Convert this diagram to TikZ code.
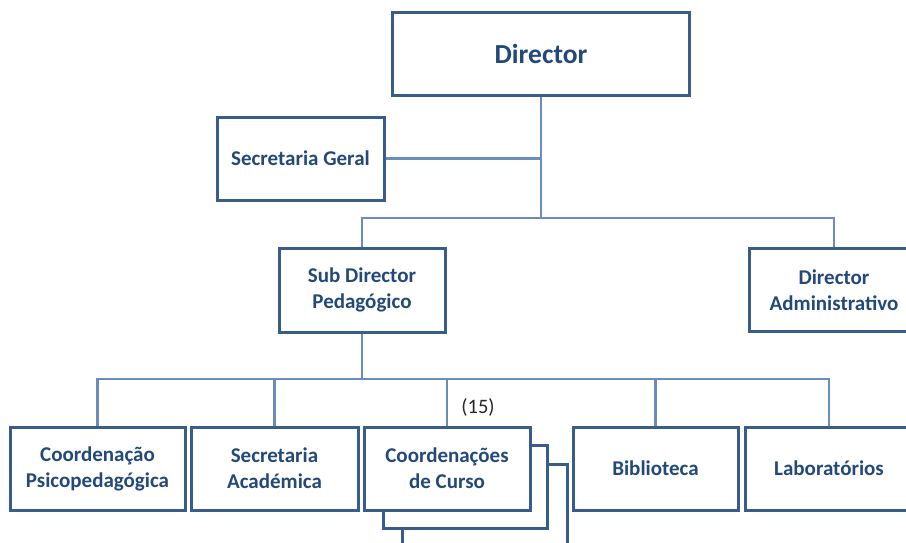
\documentclass[tikz,border=0pt]{standalone}
\usepackage{fontspec}
\setmainfont{Carlito}
\definecolor{boxline}{HTML}{385D8A}
\definecolor{conn}{HTML}{6A8DBE}
\definecolor{txt}{HTML}{23497A}
\begin{document}
\begin{tikzpicture}[x=1pt,y=-1pt,
  orgbox/.style={draw=boxline, line width=3pt, fill=white, inner sep=0pt,
    minimum height=83pt, align=center, text=txt,
    font=\fontsize{21}{26}\selectfont\bfseries},
  link/.style={draw=conn, line width=2.4pt}]
\useasboundingbox (0,0) rectangle (906,542);
\clip (0,0) rectangle (906,542);
% nodes
\node[orgbox, minimum width=297pt, font=\fontsize{27.5}{32}\selectfont\bfseries] (dir) at (541,53.5) {Director};
\node[orgbox, minimum width=167pt] (sg) at (300.5,158.5) {Secretaria Geral};
\node[orgbox, minimum width=166pt, minimum height=84pt] (sub) at (362,290) {Sub Director\\Pedagógico};
\node[orgbox, minimum width=170pt] (adm) at (834,290) {Director\\Administrativo};
\node[orgbox, minimum width=175pt] (psi) at (97.5,468.5) {Coordenação\\Psicopedagógica};
\node[orgbox, minimum width=167pt] (sac) at (274.5,468.5) {Secretaria\\Académica};
\node[orgbox, minimum width=165pt] (cc3) at (484.5,505.5) {};
\node[orgbox, minimum width=164pt] (cc2) at (465,486.5) {};
\node[orgbox, minimum width=166pt] (cc) at (447,468.5) {Coordenações\\de Curso};
\node[orgbox, minimum width=165pt] (bib) at (655.5,468.5) {Biblioteca};
\node[orgbox, minimum width=168pt] (lab) at (829,468.5) {Laboratórios};
\node[text=black!85, font=\fontsize{20.5}{24}\selectfont] (num) at (478,407) {(15)};
% junctions
\coordinate (j1) at (541,218);
\coordinate (j2) at (362,379);
% connectors
\draw[link] (dir.south) -- (j1);
\draw[link] (sg.east) -- (sg.east -| j1);
\draw[link] (sub.north) |- (j1) -| (adm.north);
\draw[link] (sub.south) -- (j2);
\draw[link] (psi.north) |- (j2) -| (lab.north);
\draw[link] (sac.north) -- (sac.north |- j2);
\draw[link] (cc.north) -- (cc.north |- j2);
\draw[link] (bib.north) -- (bib.north |- j2);
\end{tikzpicture}
\end{document}
